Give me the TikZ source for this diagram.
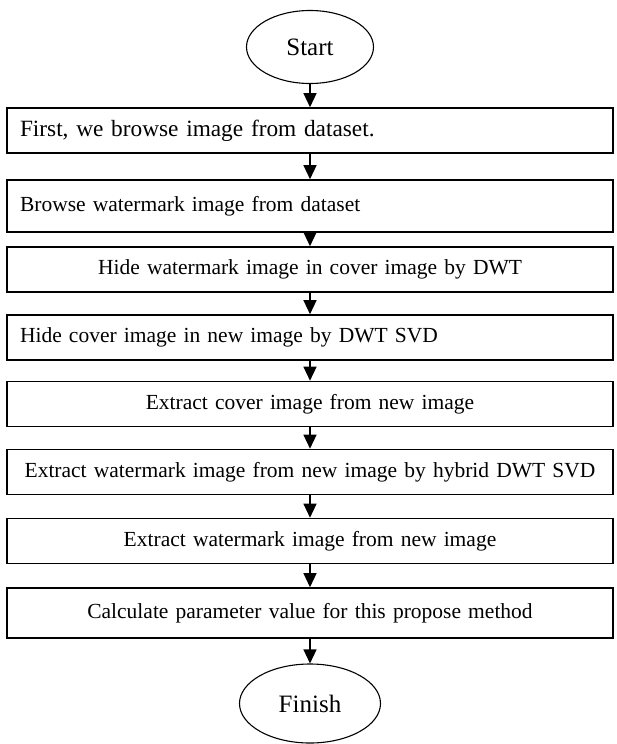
\documentclass[tikz,border=0pt]{standalone}
\usepackage{fontspec}
\setmainfont{Liberation Serif}
\usetikzlibrary{shapes.geometric, arrows.meta}
\tikzset{>={Triangle[length=14pt, width=13pt]}}
\tikzset{
	stepbox/.style={draw, line width=1.6pt, text width=580pt, inner xsep=13pt, inner ysep=0pt, minimum height=45pt, font=\fontsize{21.5}{26}\selectfont},
	term/.style={draw, ellipse, line width=1.1pt, inner sep=0pt, font=\fontsize{25}{30}\selectfont}
}

\begin{document}
\begin{tikzpicture}[x=1pt, y=-1pt]
    \useasboundingbox (0, 0) rectangle (617, 744);
    \node[term, minimum width=127pt, minimum height=73pt](start) at (310, 47){Start};
    \node[stepbox, align=left, font=\fontsize{23.3}{28}\selectfont](s1) at (310, 130.5){First, we browse image from dataset.};
    \node[stepbox, align=left, minimum height=52pt](s2) at (310, 206){Browse watermark image from dataset};
    \node[stepbox, align=center](s3) at (310, 269.5){Hide watermark image in cover image by DWT};
    \node[stepbox, align=left](s4) at (310, 337.5){Hide cover image in new image by DWT SVD};
    \node[stepbox, align=center](s5) at (310, 404){Extract cover image from new image};
    \node[stepbox, align=center](s6) at (310, 472){Extract watermark image from new image by hybrid DWT SVD};
    \node[stepbox, align=center](s7) at (310, 541){Extract watermark image from new image};
    \node[stepbox, align=center, minimum height=50pt](s8) at (310, 613){Calculate parameter value for this propose method};
    \node[term, minimum width=141pt, minimum height=79pt](finish) at (310, 703.5){Finish};
    \foreach \a/\b in {start/s1, s1/s2, s2/s3, s3/s4, s4/s5, s5/s6, s6/s7, s7/s8, s8/finish}
        \draw[->, line width=1.3pt](\a) -- (\b);
\end{tikzpicture}
\end{document}
